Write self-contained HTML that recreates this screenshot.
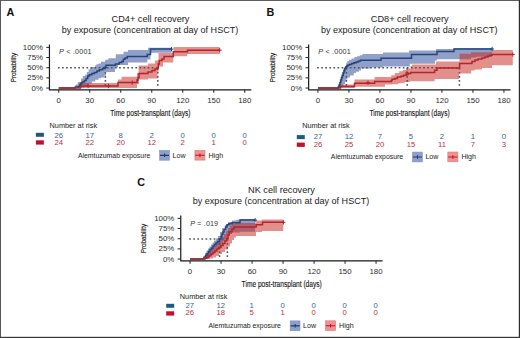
<!DOCTYPE html>
<html><head><meta charset="utf-8"><style>
html,body{margin:0;padding:0;background:#fff;}
svg{display:block;font-family:"Liberation Sans", sans-serif;}
</style></head><body>
<svg width="520" height="338" viewBox="0 0 520 338">
<rect x="0" y="0" width="520" height="338" fill="#fff"/>
<g transform="translate(0,0)">
<text x="6.6" y="15.85" font-size="10.8" font-weight="bold" fill="#111">A</text>
<text x="150.5" y="22.1" font-size="9.2" fill="#222" text-anchor="middle">CD4+ cell recovery</text>
<text x="150" y="33.1" font-size="9.05" fill="#222" text-anchor="middle">by exposure (concentration at day of HSCT)</text>
<path d="M58.75,88.05 H75 V85.5 H75.8 V84.4 H77.8 V81.9 H81.1 V78.6 H82.8 V76.1 H85.3 V74.4 H86.9 V71.9 H88.6 V69.5 H90 V68 H91.9 V67 H95.2 V65.3 H96.5 V64.3 H98.5 V63.5 H101 V61.8 H105.1 V59.7 H108.4 V58.3 H115.8 V54.2 H123.5 V51.8 H128 V49.9 H148 V47.7 H171.5 V52.7 H150.5 V59.4 H147.3 V62.5 H128 V65 H118 V67.5 H115 V72 H106 V75.5 H104.5 V77.5 H101 V78.2 H98.5 V79.8 H95.2 V81.5 H91.9 V83.8 H88.6 V85.8 H84.4 V87.6 H80.3 V88.05 H58.75 Z" fill="#234191" fill-opacity="0.5" stroke="none"/><path d="M58.75,88.05 H80.4 V83.1 H118 V79.6 H121.5 V76.8 H137 V73 H138.6 V65.5 H148 V63.5 H155 V60.5 H158.5 V53 H173.7 V47 H219.7 V53.9 H187.3 V56.2 H173.3 V62.6 H163 V66.6 H158.5 V72 H157.5 V78.6 H148 V79.6 H139 V84 H137 V88.05 H58.75 Z" fill="#c82018" fill-opacity="0.5" stroke="none"/><path d="M57.9,67.8 H157.8 M105.4,67.8 V88.05 M157.8,67.8 V88.05" stroke="#555" stroke-width="1.5" stroke-dasharray="1.7 2.38" fill="none"/><path d="M58.75,88.05 H75.3 V86.9 H78.6 V86.4 H79.5 V85.2 H80.3 V84 H81.2 V83 H82 V81.9 H84.4 V80.6 H86.1 V78.6 H87.7 V76.1 H89.4 V74.8 H91.9 V73.6 H94.4 V72.4 H96.9 V71.1 H99.3 V69.7 H102.6 V68.4 H104.3 V67.2 H106 V65.3 H115.5 V63.9 H119.2 V62.6 H121.7 V61.4 H123.3 V59.3 H125 V58 H127.3 V56.4 H147.3 V54.4 H150.5 V49.1 H171.5" fill="none" stroke="#26447a" stroke-width="1.5"/><path d="M171.5,46.9 V51.3 M169.5,49.1 H173.5" stroke="#26447a" stroke-width="1"/><path d="M58.75,88.05 H80.4 V86 H118 V82.6 H137 V80 H138 V77.5 H139 V73.6 H148 V72 H152 V70.5 H155 V69 H157.5 V68 H158.3 V64 H159.2 V60.5 H162 V59 H164 V56.6 H173.3 V51.8 H187.5 V50.2 H219.7" fill="none" stroke="#b0262e" stroke-width="1.5"/><path d="M88.1,83.8 V88.2 M86.1,86 H90.1" stroke="#b0262e" stroke-width="1"/><path d="M108.5,83.8 V88.2 M106.5,86 H110.5" stroke="#b0262e" stroke-width="1"/><path d="M132.2,80.4 V84.8 M130.2,82.6 H134.2" stroke="#b0262e" stroke-width="1"/><path d="M219.7,48 V52.4 M217.7,50.2 H221.7" stroke="#b0262e" stroke-width="1"/>
<path d="M49.45,44.4 V90.5 M48.85,89.9 H251.3" stroke="#1a1a1a" stroke-width="1.2" fill="none"/>
<path d="M46.3,88.05 H49.5" stroke="#222" stroke-width="1"/>
<text transform="translate(43,90.5) scale(1.08,0.95)" font-size="7.3" fill="#2e2e2e" text-anchor="end">0%</text>
<path d="M46.3,77.89 H49.5" stroke="#222" stroke-width="1"/>
<text transform="translate(43,80.34) scale(1.08,0.95)" font-size="7.3" fill="#2e2e2e" text-anchor="end">25%</text>
<path d="M46.3,67.72 H49.5" stroke="#222" stroke-width="1"/>
<text transform="translate(43,70.17) scale(1.08,0.95)" font-size="7.3" fill="#2e2e2e" text-anchor="end">50%</text>
<path d="M46.3,57.56 H49.5" stroke="#222" stroke-width="1"/>
<text transform="translate(43,60.01) scale(1.08,0.95)" font-size="7.3" fill="#2e2e2e" text-anchor="end">75%</text>
<path d="M46.3,47.4 H49.5" stroke="#222" stroke-width="1"/>
<text transform="translate(43,49.85) scale(1.08,0.95)" font-size="7.3" fill="#2e2e2e" text-anchor="end">100%</text>
<path d="M58.75,89.9 V92.8" stroke="#222" stroke-width="1"/>
<text transform="translate(58.75,102.7) scale(1.08,0.95)" font-size="7.3" fill="#2e2e2e" text-anchor="middle">0</text>
<path d="M89.75,89.9 V92.8" stroke="#222" stroke-width="1"/>
<text transform="translate(89.75,102.7) scale(1.08,0.95)" font-size="7.3" fill="#2e2e2e" text-anchor="middle">30</text>
<path d="M120.75,89.9 V92.8" stroke="#222" stroke-width="1"/>
<text transform="translate(120.75,102.7) scale(1.08,0.95)" font-size="7.3" fill="#2e2e2e" text-anchor="middle">60</text>
<path d="M151.75,89.9 V92.8" stroke="#222" stroke-width="1"/>
<text transform="translate(151.75,102.7) scale(1.08,0.95)" font-size="7.3" fill="#2e2e2e" text-anchor="middle">90</text>
<path d="M182.75,89.9 V92.8" stroke="#222" stroke-width="1"/>
<text transform="translate(182.75,102.7) scale(1.08,0.95)" font-size="7.3" fill="#2e2e2e" text-anchor="middle">120</text>
<path d="M213.75,89.9 V92.8" stroke="#222" stroke-width="1"/>
<text transform="translate(213.75,102.7) scale(1.08,0.95)" font-size="7.3" fill="#2e2e2e" text-anchor="middle">150</text>
<path d="M244.75,89.9 V92.8" stroke="#222" stroke-width="1"/>
<text transform="translate(244.75,102.7) scale(1.08,0.95)" font-size="7.3" fill="#2e2e2e" text-anchor="middle">180</text>
<text transform="translate(16.4,67.5) rotate(-90) scale(0.84,1)" x="0" y="0" font-size="7.5" fill="#111" stroke="#111" stroke-width="0.15" text-anchor="middle">Probability</text>
<text transform="translate(150.4,115.5) scale(0.77,1)" x="0" y="0" font-size="8.6" fill="#111" stroke="#111" stroke-width="0.12" text-anchor="middle">Time post-transplant (days)</text>
<text x="59" y="54.3" font-size="7.2" fill="#333" letter-spacing="0.2"><tspan font-style="italic">P</tspan> &lt; .0001</text>
<text x="49.6" y="128.1" font-size="7.3" fill="#222">Number at risk</text>
<g transform="translate(0,0)">
<rect x="35.9" y="132.8" width="8" height="4" fill="#1c5a80"/>
<rect x="35.9" y="140.3" width="8" height="4.3" fill="#c0122e"/>
</g><g transform="translate(0,0)">
<text x="58.75" y="137.6" font-size="7.7" fill="#33639a" text-anchor="middle">26</text>
<text x="58.75" y="144.8" font-size="7.7" fill="#c0303e" text-anchor="middle">24</text>
<text x="89.75" y="137.6" font-size="7.7" fill="#33639a" text-anchor="middle">17</text>
<text x="89.75" y="144.8" font-size="7.7" fill="#c0303e" text-anchor="middle">22</text>
<text x="120.75" y="137.6" font-size="7.7" fill="#33639a" text-anchor="middle">8</text>
<text x="120.75" y="144.8" font-size="7.7" fill="#c0303e" text-anchor="middle">20</text>
<text x="151.75" y="137.6" font-size="7.7" fill="#33639a" text-anchor="middle">2</text>
<text x="151.75" y="144.8" font-size="7.7" fill="#c0303e" text-anchor="middle">12</text>
<text x="182.75" y="137.6" font-size="7.7" fill="#33639a" text-anchor="middle">0</text>
<text x="182.75" y="144.8" font-size="7.7" fill="#c0303e" text-anchor="middle">2</text>
<text x="213.75" y="137.6" font-size="7.7" fill="#33639a" text-anchor="middle">0</text>
<text x="213.75" y="144.8" font-size="7.7" fill="#c0303e" text-anchor="middle">1</text>
<text x="244.75" y="137.6" font-size="7.7" fill="#33639a" text-anchor="middle">0</text>
<text x="244.75" y="144.8" font-size="7.7" fill="#c0303e" text-anchor="middle">0</text>
</g><g transform="translate(0,0)">
<text x="77.9" y="157.6" font-size="6.9" fill="#222">Alemtuzumab exposure</text>
<rect x="159.6" y="150.4" width="9.8" height="9.8" fill="#8e9fcb" stroke="#7d90c0" stroke-width="0.6"/>
<path d="M160,155.35 H169 M164.6,153.6 V157.1" stroke="#1e3a70" stroke-width="1.1"/>
<text x="172.5" y="157.6" font-size="7.1" fill="#222">Low</text>
<rect x="194.9" y="150.3" width="10.1" height="9.8" fill="#ee9292" stroke="#e07a7a" stroke-width="0.6"/>
<path d="M195.3,155.3 H204.6 M199.95,153.6 V157.1" stroke="#c0142a" stroke-width="1.1"/>
<text x="208.5" y="157.6" font-size="7.1" fill="#222">High</text>
</g>
</g>
<g transform="translate(259.2,0)">
<text x="7.2" y="15.85" font-size="10.8" font-weight="bold" fill="#111">B</text>
<text x="150.5" y="22.1" font-size="9.2" fill="#222" text-anchor="middle">CD8+ cell recovery</text>
<text x="150" y="33.1" font-size="9.05" fill="#222" text-anchor="middle">by exposure (concentration at day of HSCT)</text>
<path d="M58.75,88.05 H78.3 V86.8 H79 V84.5 H79.8 V82 H80.6 V79.5 H81.4 V77 H82.2 V74.5 H83 V72 H83.8 V69.5 H84.3 V68.6 H85.4 V66.5 H86.6 V64.5 H87.2 V62.4 H88.3 V61 H89.9 V59.8 H92.3 V58.5 H95.2 V57.1 H97.8 V56.2 H100.5 V55.3 H103.2 V54 H123.8 V52.6 H149.8 V50.6 H176.8 V49 H194.8 V48 H232.9 V56.8 H216.8 V57.5 H211.8 V59.3 H177.8 V60.5 H175.8 V63.8 H150.6 V66.4 H123.8 V67.5 H110.8 V68.5 H101.8 V70.6 H99.8 V71.8 H96.8 V72.9 H94.5 V75.5 H90.8 V77.5 H88.3 V79 H87.3 V81.5 H85.8 V84 H84.3 V86 H82.8 V87.2 H81.4 V88.05 H58.75 Z" fill="#234191" fill-opacity="0.5" stroke="none"/><path d="M58.75,88.05 H81.4 V84.5 H95.3 V79.5 H115.4 V77.1 H132 V75.3 H135.6 V73.1 H140 V71.3 H143.5 V70 H147.1 V68.6 H151.5 V66 H152.8 V64.6 H176.8 V61.4 H200.3 V53.7 H211.8 V52.2 H232.8 V50.1 H253.6 V65.2 H232.8 V68 H222.8 V69.5 H215.5 V70.6 H212 V73.4 H199.8 V79 H175.4 V81.3 H150.6 V82 H145.3 V83.3 H139.1 V84.2 H132.8 V84.6 H125.8 V86.8 H95.3 V88.05 H58.75 Z" fill="#c82018" fill-opacity="0.5" stroke="none"/><path d="M57.9,67.8 H200.2 M87.2,67.8 V88.05 M148,67.8 V88.05 M200.2,67.8 V88.05" stroke="#555" stroke-width="1.5" stroke-dasharray="1.7 2.38" fill="none"/><path d="M58.75,88.05 H79.1 V87 H80 V85 H80.8 V82.5 H81.6 V80 H82.4 V77.5 H83.2 V75.5 H84 V73 H84.8 V71 H85.6 V68.5 H86.6 V67 H87.6 V66 H88.8 V65 H90.3 V64.4 H92.5 V63.6 H94.8 V62.8 H97 V62 H99.3 V61 H101.4 V60.2 H121.8 V58.3 H152.3 V54.4 H177.8 V51.4 H194.8 V49 H232.9" fill="none" stroke="#26447a" stroke-width="1.5"/><path d="M232.9,46.8 V51.2 M230.9,49 H234.9" stroke="#26447a" stroke-width="1"/><path d="M58.75,88.05 H81.4 V86.4 H95.3 V83.3 H115.4 V81.5 H132 V80.6 H132.9 V79.3 H135.6 V78.4 H138.2 V77.1 H141.8 V76.2 H144.4 V75.3 H147.1 V74.4 H148.9 V73.5 H151.5 V72.6 H175.4 V70.2 H177.8 V68 H200.4 V63.5 H212.8 V61.6 H215.8 V60.1 H218.8 V59 H222.8 V58 H225.8 V57 H228.8 V56 H230.8 V55.3 H232.8 V54.5 H253.6" fill="none" stroke="#b0262e" stroke-width="1.5"/><path d="M108.8,80.4 V84.8 M106.8,82.6 H110.8" stroke="#b0262e" stroke-width="1"/><path d="M147.8,70.9 V75.3 M145.8,73.1 H149.8" stroke="#b0262e" stroke-width="1"/><path d="M253.6,52.3 V56.7 M251.6,54.5 H255.6" stroke="#b0262e" stroke-width="1"/>
<path d="M49.45,44.4 V90.5 M48.85,89.9 H251.3" stroke="#1a1a1a" stroke-width="1.2" fill="none"/>
<path d="M46.3,88.05 H49.5" stroke="#222" stroke-width="1"/>
<text transform="translate(43,90.5) scale(1.08,0.95)" font-size="7.3" fill="#2e2e2e" text-anchor="end">0%</text>
<path d="M46.3,77.89 H49.5" stroke="#222" stroke-width="1"/>
<text transform="translate(43,80.34) scale(1.08,0.95)" font-size="7.3" fill="#2e2e2e" text-anchor="end">25%</text>
<path d="M46.3,67.72 H49.5" stroke="#222" stroke-width="1"/>
<text transform="translate(43,70.17) scale(1.08,0.95)" font-size="7.3" fill="#2e2e2e" text-anchor="end">50%</text>
<path d="M46.3,57.56 H49.5" stroke="#222" stroke-width="1"/>
<text transform="translate(43,60.01) scale(1.08,0.95)" font-size="7.3" fill="#2e2e2e" text-anchor="end">75%</text>
<path d="M46.3,47.4 H49.5" stroke="#222" stroke-width="1"/>
<text transform="translate(43,49.85) scale(1.08,0.95)" font-size="7.3" fill="#2e2e2e" text-anchor="end">100%</text>
<path d="M58.75,89.9 V92.8" stroke="#222" stroke-width="1"/>
<text transform="translate(58.75,102.7) scale(1.08,0.95)" font-size="7.3" fill="#2e2e2e" text-anchor="middle">0</text>
<path d="M89.75,89.9 V92.8" stroke="#222" stroke-width="1"/>
<text transform="translate(89.75,102.7) scale(1.08,0.95)" font-size="7.3" fill="#2e2e2e" text-anchor="middle">30</text>
<path d="M120.75,89.9 V92.8" stroke="#222" stroke-width="1"/>
<text transform="translate(120.75,102.7) scale(1.08,0.95)" font-size="7.3" fill="#2e2e2e" text-anchor="middle">60</text>
<path d="M151.75,89.9 V92.8" stroke="#222" stroke-width="1"/>
<text transform="translate(151.75,102.7) scale(1.08,0.95)" font-size="7.3" fill="#2e2e2e" text-anchor="middle">90</text>
<path d="M182.75,89.9 V92.8" stroke="#222" stroke-width="1"/>
<text transform="translate(182.75,102.7) scale(1.08,0.95)" font-size="7.3" fill="#2e2e2e" text-anchor="middle">120</text>
<path d="M213.75,89.9 V92.8" stroke="#222" stroke-width="1"/>
<text transform="translate(213.75,102.7) scale(1.08,0.95)" font-size="7.3" fill="#2e2e2e" text-anchor="middle">150</text>
<path d="M244.75,89.9 V92.8" stroke="#222" stroke-width="1"/>
<text transform="translate(244.75,102.7) scale(1.08,0.95)" font-size="7.3" fill="#2e2e2e" text-anchor="middle">180</text>
<text transform="translate(15.3,67.5) rotate(-90) scale(0.84,1)" x="0" y="0" font-size="7.5" fill="#111" stroke="#111" stroke-width="0.15" text-anchor="middle">Probability</text>
<text transform="translate(150.4,115.5) scale(0.77,1)" x="0" y="0" font-size="8.6" fill="#111" stroke="#111" stroke-width="0.12" text-anchor="middle">Time post-transplant (days)</text>
<text x="59" y="54.3" font-size="7.2" fill="#333" letter-spacing="0.2"><tspan font-style="italic">P</tspan> &lt; .0001</text>
<text x="43" y="128.4" font-size="7.3" fill="#222">Number at risk</text>
<g transform="translate(1.7,2.3)">
<rect x="35.9" y="132.8" width="8" height="4" fill="#1c5a80"/>
<rect x="35.9" y="140.3" width="8" height="4.3" fill="#c0122e"/>
</g><g transform="translate(0,1.9)">
<text x="58.75" y="137.6" font-size="7.7" fill="#33639a" text-anchor="middle">27</text>
<text x="58.75" y="144.8" font-size="7.7" fill="#c0303e" text-anchor="middle">26</text>
<text x="89.75" y="137.6" font-size="7.7" fill="#33639a" text-anchor="middle">12</text>
<text x="89.75" y="144.8" font-size="7.7" fill="#c0303e" text-anchor="middle">25</text>
<text x="120.75" y="137.6" font-size="7.7" fill="#33639a" text-anchor="middle">7</text>
<text x="120.75" y="144.8" font-size="7.7" fill="#c0303e" text-anchor="middle">20</text>
<text x="151.75" y="137.6" font-size="7.7" fill="#33639a" text-anchor="middle">5</text>
<text x="151.75" y="144.8" font-size="7.7" fill="#c0303e" text-anchor="middle">15</text>
<text x="182.75" y="137.6" font-size="7.7" fill="#33639a" text-anchor="middle">2</text>
<text x="182.75" y="144.8" font-size="7.7" fill="#c0303e" text-anchor="middle">11</text>
<text x="213.75" y="137.6" font-size="7.7" fill="#33639a" text-anchor="middle">1</text>
<text x="213.75" y="144.8" font-size="7.7" fill="#c0303e" text-anchor="middle">7</text>
<text x="244.75" y="137.6" font-size="7.7" fill="#33639a" text-anchor="middle">0</text>
<text x="244.75" y="144.8" font-size="7.7" fill="#c0303e" text-anchor="middle">3</text>
</g><g transform="translate(-6.3,1.7)">
<text x="77.9" y="157.6" font-size="6.9" fill="#222">Alemtuzumab exposure</text>
<rect x="159.6" y="150.4" width="9.8" height="9.8" fill="#8e9fcb" stroke="#7d90c0" stroke-width="0.6"/>
<path d="M160,155.35 H169 M164.6,153.6 V157.1" stroke="#1e3a70" stroke-width="1.1"/>
<text x="172.5" y="157.6" font-size="7.1" fill="#222">Low</text>
<rect x="194.9" y="150.3" width="10.1" height="9.8" fill="#ee9292" stroke="#e07a7a" stroke-width="0.6"/>
<path d="M195.3,155.3 H204.6 M199.95,153.6 V157.1" stroke="#c0142a" stroke-width="1.1"/>
<text x="208.5" y="157.6" font-size="7.1" fill="#222">High</text>
</g>
</g>
<g transform="translate(131.3,171)">
<text x="5.9" y="14.5" font-size="10.8" font-weight="bold" fill="#111">C</text>
<text x="150.2" y="22.1" font-size="9.2" fill="#222" text-anchor="middle">NK cell recovery</text>
<text x="149.7" y="33.1" font-size="9.05" fill="#222" text-anchor="middle">by exposure (concentration at day of HSCT)</text>
<path d="M58.75,88.05 H72.2 V85 H73.7 V82 H75.2 V79.5 H76.7 V77.5 H78.2 V75.5 H79.7 V73.5 H81.2 V71.5 H82.7 V69.5 H84.7 V67.5 H86.7 V65 H88.7 V61 H90.7 V57.2 H93.7 V54 H96.7 V51.1 H100.7 V49.5 H104.7 V48.8 H108.7 V48 H123.8 V60.8 H108.7 V61.5 H100.7 V63 H97.7 V65 H95.7 V67.5 H93.7 V70.5 H91.7 V73.5 H89.7 V76 H87.7 V78 H85.7 V80 H83.7 V82 H81.7 V84 H79.7 V86 H77.7 V87.5 H75.7 V88.05 H58.75 Z" fill="#234191" fill-opacity="0.5" stroke="none"/><path d="M58.75,88.05 H73.2 V85.5 H74.7 V83 H76.7 V81 H78.7 V79 H80.7 V77 H82.7 V75 H84.7 V73 H86.7 V71 H88.7 V68.5 H90.7 V66 H92.7 V63 H94.7 V60 H96.7 V57 H98.7 V54.5 H100.7 V53 H104.7 V52 H124.7 V49.5 H130.7 V48.5 H152 V60.1 H130.7 V61.1 H124.7 V65 H104.7 V66.5 H102.7 V69 H100.7 V72.5 H98.7 V75.5 H96.7 V78.5 H93.7 V81 H90.7 V83 H87.7 V85 H84.7 V86.5 H81.7 V87.5 H78.7 V88.05 H58.75 Z" fill="#c82018" fill-opacity="0.5" stroke="none"/><path d="M57.9,67.95 H96.1 M88.3,67.95 V88.05 M96.1,67.95 V88.05" stroke="#555" stroke-width="1.5" stroke-dasharray="1.7 2.38" fill="none"/><path d="M58.75,88.05 H72.7 V86.5 H74.2 V84.5 H75.7 V82.5 H77.2 V80.5 H78.7 V78.5 H80.2 V77 H81.7 V75 H83.2 V73.5 H84.7 V72 H86.2 V70.5 H88.2 V68 H89.7 V65.5 H90.7 V63 H91.7 V61 H92.7 V58.5 H94.2 V56 H95.7 V53.8 H97.7 V52.8 H100.7 V51.8 H108.7 V49.1 H123.8" fill="none" stroke="#26447a" stroke-width="1.5"/><path d="M123.8,46.9 V51.3 M121.8,49.1 H125.8" stroke="#26447a" stroke-width="1"/><path d="M58.75,88.05 H73.7 V87 H75.7 V86 H77.7 V84.5 H79.7 V83 H81.7 V81.5 H83.7 V80 H85.7 V78 H87.7 V76.5 H89.7 V74.5 H91.7 V72.5 H93.7 V70 H95.2 V67.5 H96.7 V64 H97.9 V60.7 H100.7 V58 H102.7 V56.3 H104.7 V56 H124.8 V53.8 H131.2 V51.3 H152" fill="none" stroke="#b0262e" stroke-width="1.5"/><path d="M152.1,49.1 V53.5 M150.1,51.3 H154.1" stroke="#b0262e" stroke-width="1"/>
<path d="M49.45,44.4 V90.5 M48.85,89.9 H251.3" stroke="#1a1a1a" stroke-width="1.2" fill="none"/>
<path d="M46.3,88.05 H49.5" stroke="#222" stroke-width="1"/>
<text transform="translate(43,90.5) scale(1.08,0.95)" font-size="7.3" fill="#2e2e2e" text-anchor="end">0%</text>
<path d="M46.3,77.89 H49.5" stroke="#222" stroke-width="1"/>
<text transform="translate(43,80.34) scale(1.08,0.95)" font-size="7.3" fill="#2e2e2e" text-anchor="end">25%</text>
<path d="M46.3,67.72 H49.5" stroke="#222" stroke-width="1"/>
<text transform="translate(43,70.17) scale(1.08,0.95)" font-size="7.3" fill="#2e2e2e" text-anchor="end">50%</text>
<path d="M46.3,57.56 H49.5" stroke="#222" stroke-width="1"/>
<text transform="translate(43,60.01) scale(1.08,0.95)" font-size="7.3" fill="#2e2e2e" text-anchor="end">75%</text>
<path d="M46.3,47.4 H49.5" stroke="#222" stroke-width="1"/>
<text transform="translate(43,49.85) scale(1.08,0.95)" font-size="7.3" fill="#2e2e2e" text-anchor="end">100%</text>
<path d="M58.75,89.9 V92.8" stroke="#222" stroke-width="1"/>
<text transform="translate(58.75,102.7) scale(1.08,0.95)" font-size="7.3" fill="#2e2e2e" text-anchor="middle">0</text>
<path d="M89.75,89.9 V92.8" stroke="#222" stroke-width="1"/>
<text transform="translate(89.75,102.7) scale(1.08,0.95)" font-size="7.3" fill="#2e2e2e" text-anchor="middle">30</text>
<path d="M120.75,89.9 V92.8" stroke="#222" stroke-width="1"/>
<text transform="translate(120.75,102.7) scale(1.08,0.95)" font-size="7.3" fill="#2e2e2e" text-anchor="middle">60</text>
<path d="M151.75,89.9 V92.8" stroke="#222" stroke-width="1"/>
<text transform="translate(151.75,102.7) scale(1.08,0.95)" font-size="7.3" fill="#2e2e2e" text-anchor="middle">90</text>
<path d="M182.75,89.9 V92.8" stroke="#222" stroke-width="1"/>
<text transform="translate(182.75,102.7) scale(1.08,0.95)" font-size="7.3" fill="#2e2e2e" text-anchor="middle">120</text>
<path d="M213.75,89.9 V92.8" stroke="#222" stroke-width="1"/>
<text transform="translate(213.75,102.7) scale(1.08,0.95)" font-size="7.3" fill="#2e2e2e" text-anchor="middle">150</text>
<path d="M244.75,89.9 V92.8" stroke="#222" stroke-width="1"/>
<text transform="translate(244.75,102.7) scale(1.08,0.95)" font-size="7.3" fill="#2e2e2e" text-anchor="middle">180</text>
<text transform="translate(15.1,67.5) rotate(-90) scale(0.84,1)" x="0" y="0" font-size="7.5" fill="#111" stroke="#111" stroke-width="0.15" text-anchor="middle">Probability</text>
<text transform="translate(150.4,115.5) scale(0.77,1)" x="0" y="0" font-size="8.6" fill="#111" stroke="#111" stroke-width="0.12" text-anchor="middle">Time post-transplant (days)</text>
<text x="59" y="55" font-size="7.2" fill="#333" letter-spacing="0.12"><tspan font-style="italic">P</tspan> = .019</text>
<text x="48.55" y="127.8" font-size="7.3" fill="#222">Number at risk</text>
<g transform="translate(-1,0)">
<rect x="35.9" y="132.8" width="8" height="4" fill="#1c5a80"/>
<rect x="35.9" y="140.3" width="8" height="4.3" fill="#c0122e"/>
</g><g transform="translate(-0.3,-0.3)">
<text x="58.75" y="137.6" font-size="7.7" fill="#33639a" text-anchor="middle">27</text>
<text x="58.75" y="144.8" font-size="7.7" fill="#c0303e" text-anchor="middle">26</text>
<text x="89.75" y="137.6" font-size="7.7" fill="#33639a" text-anchor="middle">12</text>
<text x="89.75" y="144.8" font-size="7.7" fill="#c0303e" text-anchor="middle">18</text>
<text x="120.75" y="137.6" font-size="7.7" fill="#33639a" text-anchor="middle">1</text>
<text x="120.75" y="144.8" font-size="7.7" fill="#c0303e" text-anchor="middle">5</text>
<text x="151.75" y="137.6" font-size="7.7" fill="#33639a" text-anchor="middle">0</text>
<text x="151.75" y="144.8" font-size="7.7" fill="#c0303e" text-anchor="middle">1</text>
<text x="182.75" y="137.6" font-size="7.7" fill="#33639a" text-anchor="middle">0</text>
<text x="182.75" y="144.8" font-size="7.7" fill="#c0303e" text-anchor="middle">0</text>
<text x="213.75" y="137.6" font-size="7.7" fill="#33639a" text-anchor="middle">0</text>
<text x="213.75" y="144.8" font-size="7.7" fill="#c0303e" text-anchor="middle">0</text>
<text x="244.75" y="137.6" font-size="7.7" fill="#33639a" text-anchor="middle">0</text>
<text x="244.75" y="144.8" font-size="7.7" fill="#c0303e" text-anchor="middle">0</text>
</g><g transform="translate(-0.7,-0.5)">
<text x="77.9" y="157.6" font-size="6.9" fill="#222">Alemtuzumab exposure</text>
<rect x="159.6" y="150.4" width="9.8" height="9.8" fill="#8e9fcb" stroke="#7d90c0" stroke-width="0.6"/>
<path d="M160,155.35 H169 M164.6,153.6 V157.1" stroke="#1e3a70" stroke-width="1.1"/>
<text x="172.5" y="157.6" font-size="7.1" fill="#222">Low</text>
<rect x="194.9" y="150.3" width="10.1" height="9.8" fill="#ee9292" stroke="#e07a7a" stroke-width="0.6"/>
<path d="M195.3,155.3 H204.6 M199.95,153.6 V157.1" stroke="#c0142a" stroke-width="1.1"/>
<text x="208.5" y="157.6" font-size="7.1" fill="#222">High</text>
</g>
</g>
<rect x="0" y="0" width="520" height="1" fill="#5e5e5e"/><rect x="0" y="0" width="1" height="338" fill="#585858"/><rect x="518.8" y="0" width="1.2" height="338" fill="#2c2c2c"/><rect x="0" y="336.8" width="520" height="1.2" fill="#3a3a3a"/>
</svg>
</body></html>
